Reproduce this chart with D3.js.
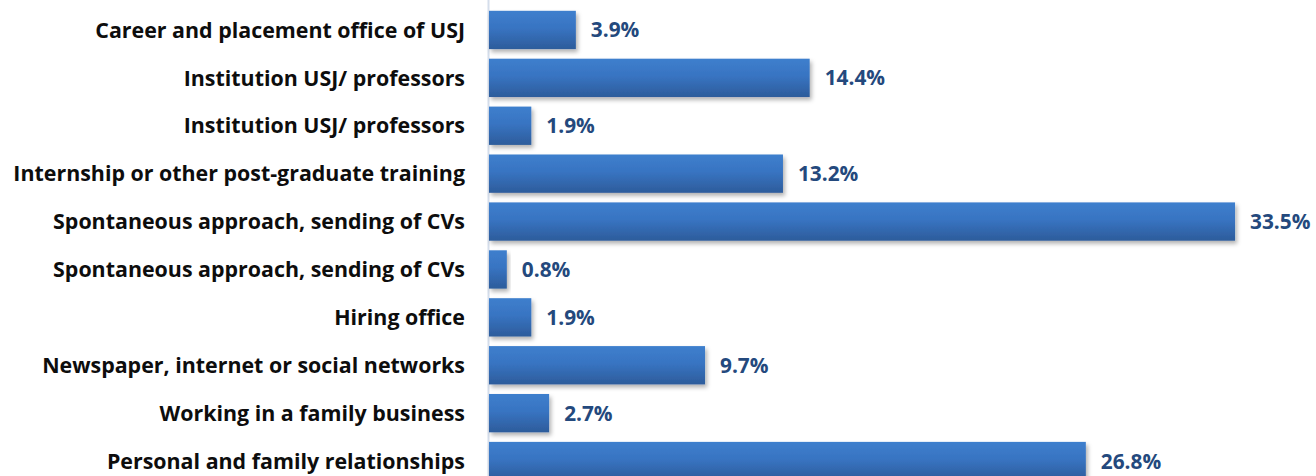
<!DOCTYPE html>
<html><head><meta charset="utf-8">
<script src="https://cdn.jsdelivr.net/npm/d3@7"></script>
<style>html,body{margin:0;padding:0;background:#fff;overflow:hidden}</style>
</head><body>
<svg id="chart" width="1316" height="476"></svg>
<script>
const categories = [
  "Career and placement office of USJ",
  "Institution USJ/ professors",
  "Institution USJ/ professors",
  "Internship or other post-graduate training",
  "Spontaneous approach, sending of CVs",
  "Spontaneous approach, sending of CVs",
  "Hiring office",
  "Newspaper, internet or social networks",
  "Working in a family business",
  "Personal and family relationships"
];
const values = [3.9, 14.4, 1.9, 13.2, 33.5, 0.8, 1.9, 9.7, 2.7, 26.8];
const valueLabels = ["3.9%","14.4%","1.9%","13.2%","33.5%","0.8%","1.9%","9.7%","2.7%","26.8%"];

const svg = d3.select("#chart");
const font = "'Open Sans', sans-serif";
const x0 = 489;
const x = d3.scaleLinear().domain([0, 35]).range([x0, x0 + 35 * 22.27]);
const idx = d3.range(categories.length);
const y = d3.scaleBand().domain(idx).range([6, 485]).paddingInner(0.2).paddingOuter(0.1);

const defs = svg.append("defs");
const g = defs.append("linearGradient").attr("id","barGrad").attr("x1",0).attr("y1",0).attr("x2",0).attr("y2",1);
g.append("stop").attr("offset","0%").attr("stop-color","#3e7fcd");
g.append("stop").attr("offset","45%").attr("stop-color","#3874c2");
g.append("stop").attr("offset","100%").attr("stop-color","#2d5c9b");
const f = defs.append("filter").attr("id","shadow").attr("x","-10%").attr("y","-20%").attr("width","130%").attr("height","160%");
f.append("feDropShadow").attr("dx",2).attr("dy",3).attr("stdDeviation",2.2).attr("flood-color","#000").attr("flood-opacity",0.3);

// axis line
svg.append("line").attr("x1",x0-0.5).attr("x2",x0-0.5).attr("y1",0).attr("y2",476)
  .attr("stroke","#d5deeb").attr("stroke-width",2);

svg.selectAll("rect.bar").data(idx).enter().append("rect")
  .attr("class","bar")
  .attr("x", x(0))
  .attr("y", i => y(i))
  .attr("width", i => x(values[i]) - x(0))
  .attr("height", y.bandwidth())
  .attr("fill","url(#barGrad)")
  .attr("filter","url(#shadow)");

svg.selectAll("text.cat").data(idx).enter().append("text")
  .attr("class","cat")
  .attr("x", 465)
  .attr("y", i => y(i) + y.bandwidth()/2)
  .attr("dy","0.36em")
  .attr("text-anchor","end")
  .attr("font-family", font)
  .attr("font-weight","bold")
  .attr("font-size","21.4px")
  .attr("fill","#0d0d0d")
  .text(i => categories[i]);

svg.selectAll("text.val").data(idx).enter().append("text")
  .attr("class","val")
  .attr("x", i => x(values[i]) + 15)
  .attr("y", i => y(i) + y.bandwidth()/2)
  .attr("dy","0.36em")
  .attr("font-family", font)
  .attr("font-weight","bold")
  .attr("font-size","20.8px")
  .attr("fill","#24497d")
  .text(i => valueLabels[i]);
</script>
</body></html>
